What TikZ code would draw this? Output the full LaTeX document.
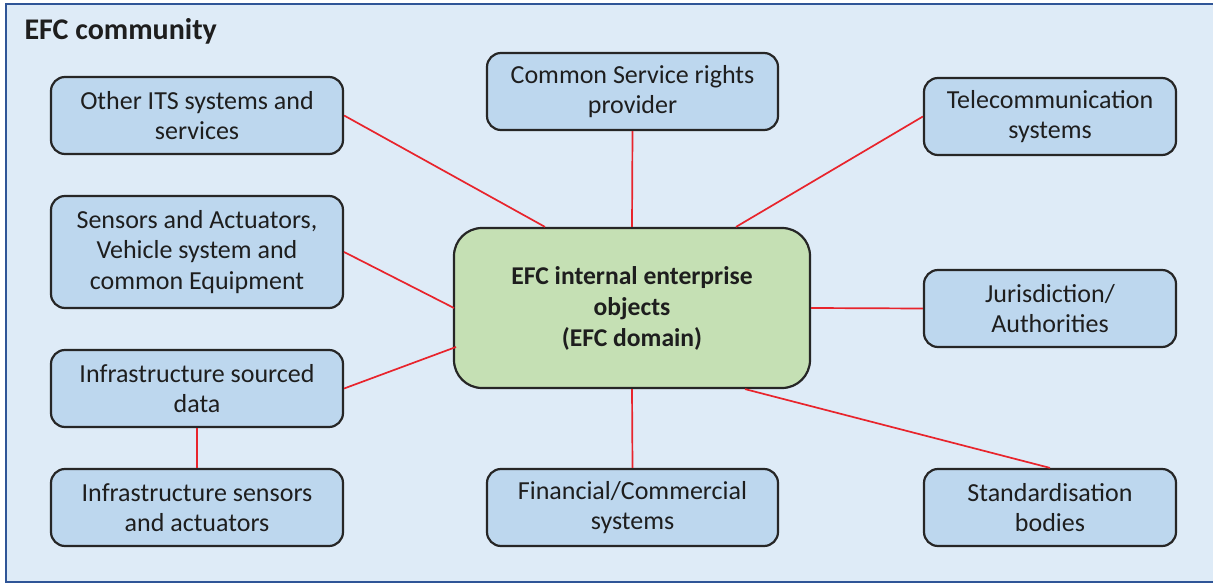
\documentclass[tikz,border=0pt]{standalone}
\usepackage{fontspec}
\setmainfont{Carlito}
\definecolor{framefill}{HTML}{DEEBF7}
\definecolor{frameline}{HTML}{2F5597}
\definecolor{boxfill}{HTML}{BDD7EE}
\definecolor{corefill}{HTML}{C5E0B4}
\definecolor{edgeline}{HTML}{262626}
\definecolor{linkred}{HTML}{E8242C}
\definecolor{inktext}{HTML}{1E1E1E}
\tikzset{
  member/.style={draw=edgeline, line width=2.2pt, fill=boxfill, rounded corners=14pt,
    align=center, text=inktext, inner sep=0pt,
    font=\fontsize{26}{30.5}\selectfont},
  core/.style={member, fill=corefill, rounded corners=28pt,
    font=\fontsize{25.6}{31}\selectfont\bfseries},
  link/.style={draw=linkred, line width=1.7pt},
}
\begin{document}
\begin{tikzpicture}[x=1pt, y=-1pt]
\useasboundingbox (0,0) rectangle (1213,585);
% community frame
\draw[fill=framefill, draw=frameline, line width=2.5pt] (6,4) rectangle (1225,582);
\node[anchor=base west, text=inktext, font=\fontsize{30}{34}\selectfont\bfseries] (title) at (21,40) {EFC community};

% central domain
\node[core, minimum width=356pt, minimum height=160pt] (core) at (632,308)
  {EFC internal enterprise\\objects\\(EFC domain)};

% surrounding actors
\node[member, minimum width=292pt, minimum height=77pt] (its) at (197,115.5) {Other ITS systems and\\services};
\node[member, minimum width=291pt, minimum height=77pt] (csr) at (632.5,91.5) {Common Service rights\\provider};
\node[member, minimum width=252pt, minimum height=77pt] (tel) at (1050,116.5) {Telecommunication\\systems};
\node[member, minimum width=292pt, minimum height=112pt] (sen) at (197,252) {Sensors and Actuators,\\Vehicle system and\\common Equipment};
\node[member, minimum width=252pt, minimum height=77pt] (jur) at (1050,308.5) {Jurisdiction/\\Authorities};
\node[member, minimum width=292pt, minimum height=77pt] (isd) at (197,388.5) {Infrastructure sourced\\data};
\node[member, minimum width=292pt, minimum height=77pt] (isa) at (197,507.5) {Infrastructure sensors\\and actuators};
\node[member, minimum width=291pt, minimum height=77pt] (fin) at (632.5,507.5) {Financial/Commercial\\systems};
\node[member, minimum width=252pt, minimum height=77pt] (std) at (1050,507.5) {Standardisation\\bodies};

% connections
\draw[link] (its.east) -- (core.north -| 545,0);
\draw[link] (csr.south) -- (core.north);
\draw[link] (tel.west) -- (core.north -| 736,0);
\draw[link] (sen.east) -- (454,308);
\draw[link] (isd.east) -- (456,347);
\draw[link] (isd.south) -- (isa.north);
\draw[link] (fin.north) -- (core.south);
\draw[link] (jur.west) -- (core.east);
\draw[link] (std.north) -- (core.south -| 745,0);
\end{tikzpicture}
\end{document}
